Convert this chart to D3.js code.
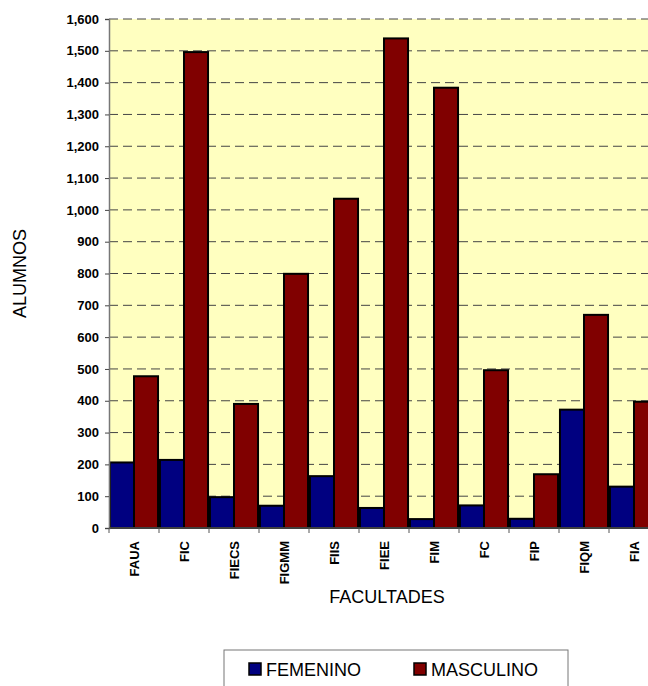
<!DOCTYPE html>
<html lang="es">
<head>
<meta charset="utf-8">
<title>Alumnos por facultad</title>
<script src="https://d3js.org/d3.v7.min.js"></script>
<style>
  body { margin: 0; background: #fff; }
  text { font-family: Arial, "Liberation Sans", sans-serif; }
</style>
</head>
<body>
<script>
// datos
var facultades = ["FAUA", "FIC", "FIECS", "FIGMM", "FIIS", "FIEE", "FIM", "FC", "FIP", "FIQM", "FIA"];
var femenino  = [206, 214, 97, 70, 163, 63, 28, 71, 29, 372, 130];
var masculino = [477, 1496, 390, 799, 1035, 1539, 1384, 496, 169, 670, 397];
var series = ["FEMENINO", "MASCULINO"];
var colores = ["#000080", "#800000"];
var yTicks = d3.range(0, 1601, 100);

var W = 648, H = 686;
// (no usar "top": es window.top)
var pLeft = 109, pTop = 19, plotW = 550, plotH = 509;

var svg = d3.select("body").append("svg")
  .attr("width", W)
  .attr("height", H);

var x = d3.scaleBand().domain(facultades).range([pLeft, pLeft + plotW]).paddingInner(0).paddingOuter(0);
var xs = d3.scaleBand().domain(series).range([0, x.bandwidth()]).paddingOuter(0.04).paddingInner(0);
var y = d3.scaleLinear().domain([0, 1600]).range([pTop + plotH, pTop]);

// fondo
svg.append("rect")
  .attr("x", pLeft).attr("y", pTop)
  .attr("width", plotW).attr("height", plotH)
  .attr("fill", "#FFFFC0");

// lineas de cuadricula
svg.append("g").selectAll("line")
  .data(yTicks.filter(function(d){ return d > 0; }))
  .enter().append("line")
  .attr("x1", pLeft).attr("x2", pLeft + plotW)
  .attr("y1", function(d){ return y(d); })
  .attr("y2", function(d){ return y(d); })
  .attr("stroke", "#444")
  .attr("stroke-width", 1)
  .attr("stroke-dasharray", "9,5");

// barras
var datos = [];
facultades.forEach(function(f, i){
  datos.push({fac: f, serie: "FEMENINO", v: femenino[i]});
  datos.push({fac: f, serie: "MASCULINO", v: masculino[i]});
});

svg.append("g").selectAll("rect")
  .data(datos)
  .enter().append("rect")
  .attr("x", function(d){ return x(d.fac) + xs(d.serie); })
  .attr("y", function(d){ return y(d.v); })
  .attr("width", xs.bandwidth())
  .attr("height", function(d){ return y(0) - y(d.v); })
  .attr("fill", function(d){ return d.serie == "FEMENINO" ? colores[0] : colores[1]; })
  .attr("stroke", "#000")
  .attr("stroke-width", 2);

// eje y
var yAxis = svg.append("g")
  .attr("transform", "translate(" + pLeft + ",0)")
  .call(d3.axisLeft(y).tickValues(yTicks).tickSize(4).tickPadding(6).tickFormat(d3.format(",")));
yAxis.select(".domain").attr("stroke", "#777").attr("stroke-width", 1.5);
yAxis.selectAll(".tick line").attr("stroke", "#444");
yAxis.selectAll("text")
  .attr("font-size", "13px")
  .attr("font-weight", "bold")
  .attr("fill", "#000")
  .style("font-family", "Arial, 'Liberation Sans', sans-serif");

// eje x
var xAxis = svg.append("g")
  .attr("transform", "translate(0," + (pTop + plotH) + ")");
xAxis.append("line")
  .attr("x1", pLeft).attr("x2", pLeft + plotW)
  .attr("stroke", "#555").attr("stroke-width", 1.5);
xAxis.selectAll(".tk")
  .data(facultades)
  .enter().append("line")
  .attr("class", "tk")
  .attr("x1", function(d){ return x(d); })
  .attr("x2", function(d){ return x(d); })
  .attr("y1", 0).attr("y2", 5)
  .attr("stroke", "#555");
xAxis.selectAll(".lbl")
  .data(facultades)
  .enter().append("text")
  .attr("class", "lbl")
  .attr("transform", function(d){
    return "translate(" + (x(d) + x.bandwidth() / 2 + 4.5) + ",13) rotate(-90)";
  })
  .attr("text-anchor", "end")
  .attr("font-size", "13px")
  .attr("font-weight", "bold")
  .text(function(d){ return d; });

// titulos de ejes
svg.append("text")
  .attr("x", pLeft + plotW / 2 + 3)
  .attr("y", 603)
  .attr("text-anchor", "middle")
  .attr("font-size", "18px")
  .text("FACULTADES");

svg.append("text")
  .attr("transform", "translate(26," + (pTop + plotH / 2) + ") rotate(-90)")
  .attr("text-anchor", "middle")
  .attr("font-size", "18px")
  .text("ALUMNOS");

// leyenda
var leg = svg.append("g");
leg.append("rect")
  .attr("x", 224).attr("y", 650)
  .attr("width", 344).attr("height", 60)
  .attr("fill", "#fff")
  .attr("stroke", "#777")
  .attr("stroke-width", 1);

var legX = [249, 414];
series.forEach(function(s, i){
  leg.append("rect")
    .attr("x", legX[i]).attr("y", 663)
    .attr("width", 12).attr("height", 12)
    .attr("fill", colores[i])
    .attr("stroke", "#000")
    .attr("stroke-width", 1.5);
  leg.append("text")
    .attr("x", legX[i] + 17).attr("y", 676)
    .attr("font-size", "18px")
    .text(s);
});
</script>
</body>
</html>
